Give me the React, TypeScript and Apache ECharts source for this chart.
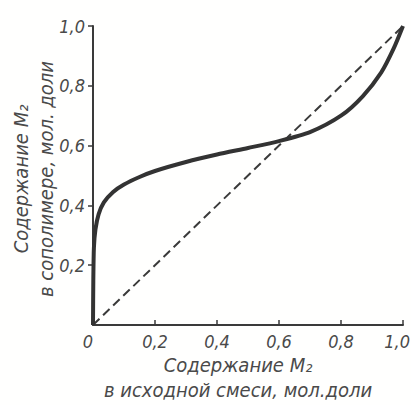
import React, { useEffect, useRef } from "react";
import * as echarts from "echarts";

const feedX = [0, 0.001, 0.003, 0.008, 0.018, 0.035, 0.065, 0.1, 0.15, 0.2, 0.3, 0.4, 0.5, 0.6, 0.7, 0.8, 0.87, 0.93, 0.97, 1];
const copolymerY = [0, 0.15, 0.26, 0.32, 0.37, 0.41, 0.445, 0.47, 0.495, 0.515, 0.545, 0.57, 0.592, 0.615, 0.645, 0.7, 0.765, 0.845, 0.925, 1];
const diagX = [0, 1];
const diagY = [0, 1];

const FONT = "'DejaVu Sans Condensed', 'Liberation Sans Narrow', 'DejaVu Sans', sans-serif";
const INK = "#3a3a3a";

const fmt = (v: number) => v.toFixed(1).replace(".", ",");

export default function App() {
  const ref = useRef<HTMLDivElement>(null);
  useEffect(() => {
    if (!ref.current) return;
    const chart = echarts.init(ref.current, undefined, { renderer: "svg" });
    const labelStyle = {
      fontFamily: FONT,
      fontStyle: "italic" as const,
      fontSize: 18,
      color: "#4a4a4a",
    };
    chart.setOption({
      animation: false,
      backgroundColor: "#fffffe",
      grid: { left: 93, right: 8, top: 26, bottom: 80, containLabel: false, outerBoundsMode: "none" },
      xAxis: {
        type: "value",
        min: 0,
        max: 1,
        interval: 0.2,
        name: "Содержание M₂\nв исходной смеси, мол.доли",
        nameLocation: "middle",
        nameGap: 27,
        nameMoveOverlap: false,
        nameTextStyle: { ...labelStyle, fontSize: 20, lineHeight: 25, padding: [0, 20, 0, 0] },
        axisLine: { show: true, lineStyle: { color: INK, width: 2 } },
        axisTick: { show: true, inside: true, length: 5, lineStyle: { color: INK, width: 1.5 } },
        axisLabel: {
          ...labelStyle,
          margin: 7,
          alignMinLabel: "right",
          formatter: (v: number) => (v === 0 ? "0" : v === 1 ? "{m|" + fmt(v) + "}" : fmt(v)),
          rich: { m: { ...labelStyle, width: 14, align: "right" } },
        },
        splitLine: { show: false },
      },
      yAxis: {
        type: "value",
        min: 0,
        max: 1,
        interval: 0.2,
        name: "Содержание M₂\nв сополимере, мол. доли",
        nameLocation: "middle",
        nameRotate: 90,
        nameGap: 35,
        nameMoveOverlap: false,
        nameTextStyle: { ...labelStyle, fontSize: 20, lineHeight: 25, padding: [0, 7, 0, 0] },
        axisLine: { show: true, lineStyle: { color: INK, width: 2 } },
        axisTick: { show: true, inside: false, length: 5, lineStyle: { color: INK, width: 1.5 } },
        axisLabel: { ...labelStyle, margin: 8, showMinLabel: false, formatter: (v: number) => fmt(v) },
        splitLine: { show: false },
      },
      series: [
        {
          type: "line",
          data: diagX.map((x, i) => [x, diagY[i]]),
          showSymbol: false,
          lineStyle: { color: INK, width: 2, type: [9, 5] },
        },
        {
          type: "line",
          data: feedX.map((x, i) => [x, copolymerY[i]]),
          showSymbol: false,
          smooth: 0.25,
          lineStyle: { color: "#333", width: 4 },
        },
      ],
    });
    return () => chart.dispose();
  }, []);
  return (
    <div
      ref={ref}
      style={{ position: "absolute", left: 0, top: 0, width: 411, height: 405 }}
    />
  );
}
